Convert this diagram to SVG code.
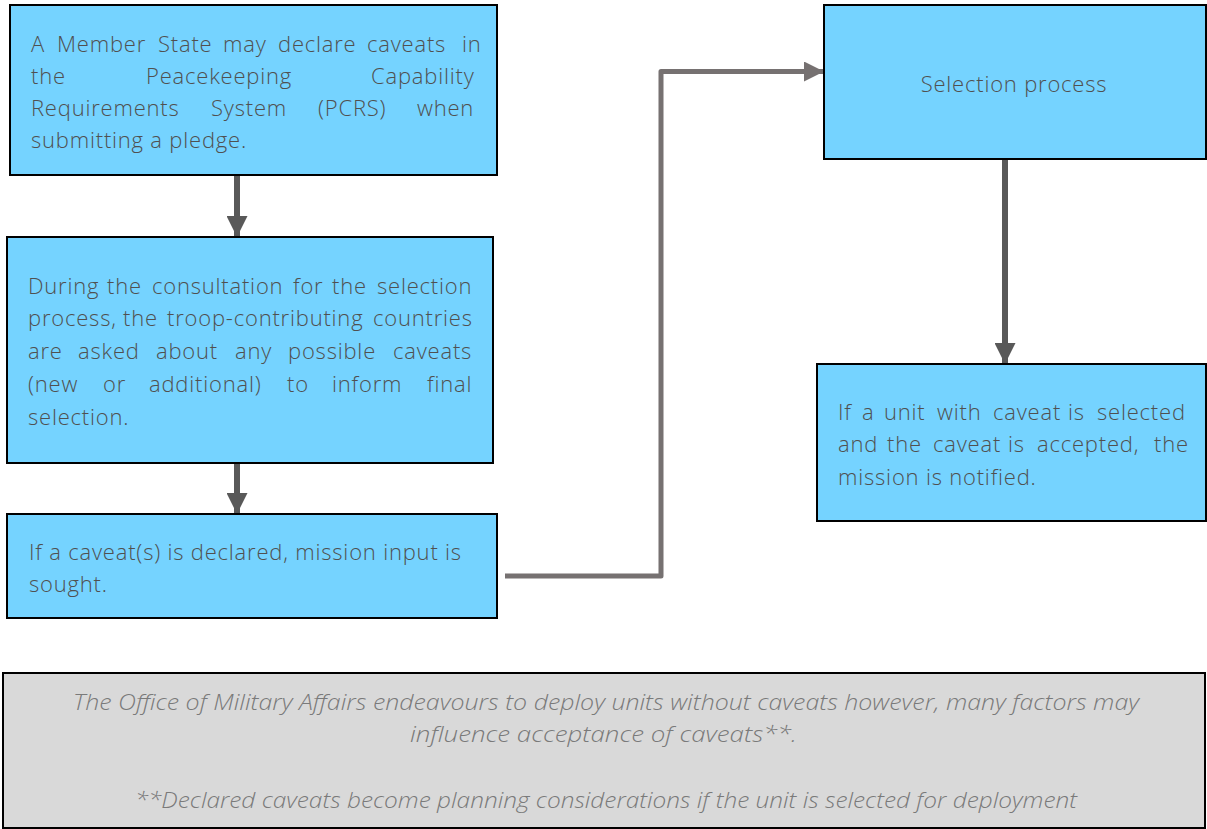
<svg xmlns="http://www.w3.org/2000/svg" width="1207" height="829" viewBox="0 0 1207 829">
<style>
.box{fill:#75D3FF;stroke:#000;stroke-width:2}
.note{fill:#D9D9D9;stroke:#000;stroke-width:2}
.t{font-family:"Open Sans",Lato,"Liberation Sans",sans-serif;font-size:22px;letter-spacing:0.8px;font-weight:300;fill:#505050}
.n{font-family:"Open Sans",Lato,"Liberation Sans",sans-serif;font-size:22px;font-style:italic;font-weight:300;fill:#7A7A7A}
.c1{fill:none;stroke:#595959;stroke-width:6}
.c2{fill:none;stroke:#767171;stroke-width:5}
</style>
<defs>
<marker id="a1" viewBox="0 0 10 10" refX="10" refY="5" markerWidth="3.5" markerHeight="3.5" markerUnits="strokeWidth" orient="auto"><path d="M0,0L10,5L0,10Z" fill="#595959"/></marker>
<marker id="a2" viewBox="0 0 10 10" refX="10" refY="5" markerWidth="4" markerHeight="4" markerUnits="strokeWidth" orient="auto"><path d="M0,0L10,5L0,10Z" fill="#767171"/></marker>
</defs>
<g id="connectors">
<path class="c1" d="M237,176V237" marker-end="url(#a1)"/>
<path class="c1" d="M237,464V514" marker-end="url(#a1)"/>
<path class="c2" d="M505,576H661V71.5H824" marker-end="url(#a2)" stroke-linejoin="round"/>
<path class="c1" d="M1005,160V364" marker-end="url(#a1)"/>
</g>
<g id="n1">
<rect class="box" x="10" y="5" width="487" height="170"/>
<text class="t" y="51.5"><tspan x="31">A</tspan><tspan x="57">Member</tspan><tspan x="158">State</tspan><tspan x="223">may</tspan><tspan x="278">declare</tspan><tspan x="367">caveats</tspan><tspan x="462">in</tspan></text>
<text class="t" y="83.5"><tspan x="31">the</tspan><tspan x="146">Peacekeeping</tspan><tspan x="371">Capability</tspan></text>
<text class="t" y="115.5"><tspan x="31">Requirements</tspan><tspan x="211">System</tspan><tspan x="318">(PCRS)</tspan><tspan x="417">when</tspan></text>
<text class="t" x="31" y="147.5">submitting a pledge.</text>
</g>
<g id="n2">
<rect class="box" x="7" y="237" width="486" height="226"/>
<text class="t" y="293.5"><tspan x="28">During</tspan><tspan x="107">the</tspan><tspan x="152">consultation</tspan><tspan x="293">for</tspan><tspan x="332">the</tspan><tspan x="377">selection</tspan></text>
<text class="t" y="326"><tspan x="28">process,</tspan><tspan x="123">the</tspan><tspan x="167">troop-contributing</tspan><tspan x="373">countries</tspan></text>
<text class="t" y="359"><tspan x="28">are</tspan><tspan x="78">asked</tspan><tspan x="156">about</tspan><tspan x="235">any</tspan><tspan x="288">possible</tspan><tspan x="393">caveats</tspan></text>
<text class="t" y="391.5"><tspan x="28">(new</tspan><tspan x="103">or</tspan><tspan x="149">additional)</tspan><tspan x="287">to</tspan><tspan x="332">inform</tspan><tspan x="427">final</tspan></text>
<text class="t" x="28" y="424.5">selection.</text>
</g>
<g id="n3">
<rect class="box" x="7" y="514" width="490" height="104"/>
<text class="t" x="29" y="560">If a caveat(s) is declared, mission input is</text>
<text class="t" x="29" y="592">sought.</text>
</g>
<g id="n4">
<rect class="box" x="824" y="5" width="382" height="154"/>
<text class="t" x="1014" y="92" text-anchor="middle">Selection process</text>
</g>
<g id="n5">
<rect class="box" x="817" y="364" width="389" height="157"/>
<text class="t" y="420"><tspan x="838">If</tspan><tspan x="862">a</tspan><tspan x="884">unit</tspan><tspan x="937">with</tspan><tspan x="993">caveat</tspan><tspan x="1068">is</tspan><tspan x="1097">selected</tspan></text>
<text class="t" y="452"><tspan x="838">and</tspan><tspan x="887">the</tspan><tspan x="933">caveat</tspan><tspan x="1008">is</tspan><tspan x="1037">accepted,</tspan><tspan x="1154">the</tspan></text>
<text class="t" x="838" y="485">mission is notified.</text>
</g>
<g id="note">
<rect class="note" x="3" y="673" width="1202" height="155"/>
<text class="n" x="73" y="710" textLength="1066" lengthAdjust="spacingAndGlyphs">The Office of Military Affairs endeavours to deploy units without caveats however, many factors may</text>
<text class="n" x="410" y="742" textLength="387" lengthAdjust="spacingAndGlyphs">influence acceptance of caveats**.</text>
<text class="n" x="135" y="808" textLength="942" lengthAdjust="spacingAndGlyphs">**Declared caveats become planning considerations if the unit is selected for deployment</text>
</g>
</svg>
